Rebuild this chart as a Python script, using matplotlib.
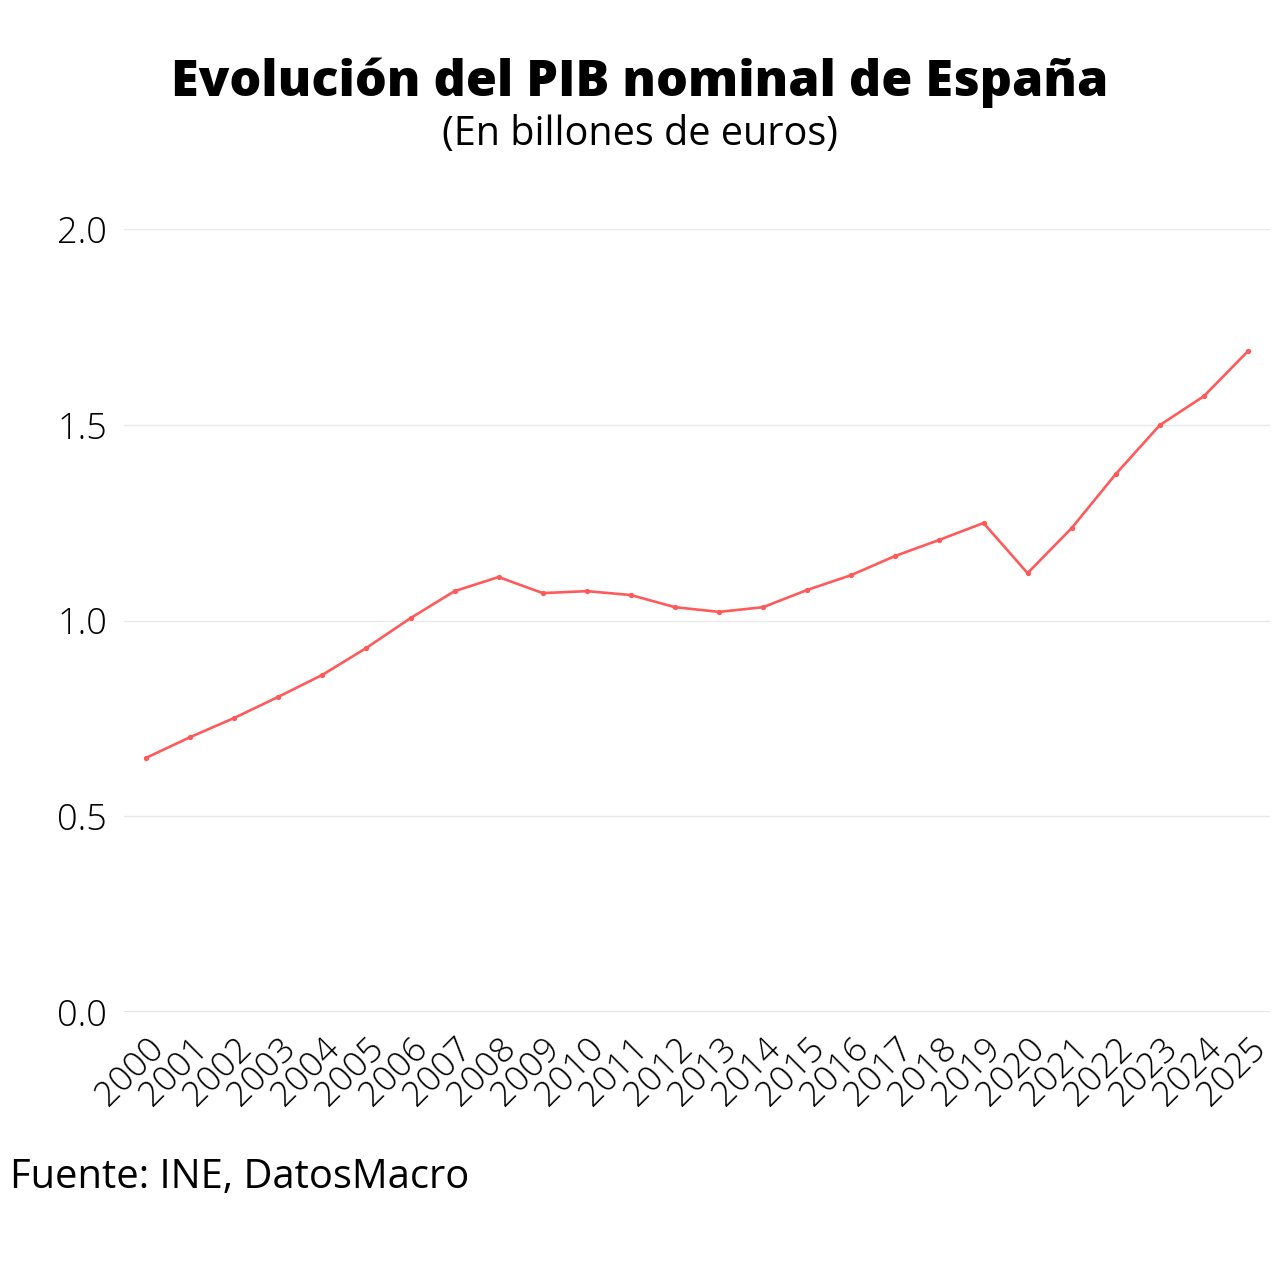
# PIB nominal de España, 2000-2025
import matplotlib
matplotlib.use("Agg")
import matplotlib.pyplot as plt

years = list(range(2000, 2026))
pib = [0.649, 0.702, 0.751, 0.805, 0.861, 0.930, 1.006, 1.075, 1.111, 1.070,
       1.075, 1.065, 1.034, 1.022, 1.034, 1.078, 1.116, 1.165, 1.206, 1.249,
       1.121, 1.236, 1.374, 1.499, 1.573, 1.688]
yticks = [0.0, 0.5, 1.0, 1.5, 2.0]

plt.rcParams['font.family'] = ['Open Sans', 'DejaVu Sans']

fig = plt.figure(figsize=(12.8, 12.8), dpi=100)
ax = fig.add_axes([124/1280, 1 - 1012/1280, (1270-124)/1280, (1012-229)/1280])

ax.plot(years, pib, color='#ff5a5a', lw=1.9, marker='o', ms=2.8, zorder=3)

ax.set_xlim(1999.5, 2025.5)
ax.set_ylim(0, 2.0)
ax.set_yticks(yticks)
ax.set_yticklabels([f"{v:.1f}" for v in yticks], fontsize=26, fontweight='light')
ax.set_xticks(years)
ax.set_xticklabels([str(y) for y in years], fontsize=25.5, fontweight='light',
                   rotation=45, ha='right', rotation_mode='anchor')
ax.tick_params(length=0, pad=12)
ax.tick_params(axis='x', pad=14)
ax.grid(axis='y', color='#e8e8e8', lw=1)
ax.axhline(0, color='#dddddd', lw=1.2, zorder=1)
for s in ax.spines.values():
    s.set_visible(False)

fig.text(0.5, 1 - 83/1280, "Evolución del PIB nominal de España", ha='center', va='center',
         fontsize=36.2, fontweight='heavy')
fig.text(0.5, 1 - 135/1280, "(En billones de euros)", ha='center', va='center', fontsize=28.5)
fig.text(10/1280, 1 - 1178/1280, "Fuente: INE, DatosMacro", ha='left', va='center', fontsize=28.7)

fig.savefig("out.png", dpi=100, facecolor='white')
